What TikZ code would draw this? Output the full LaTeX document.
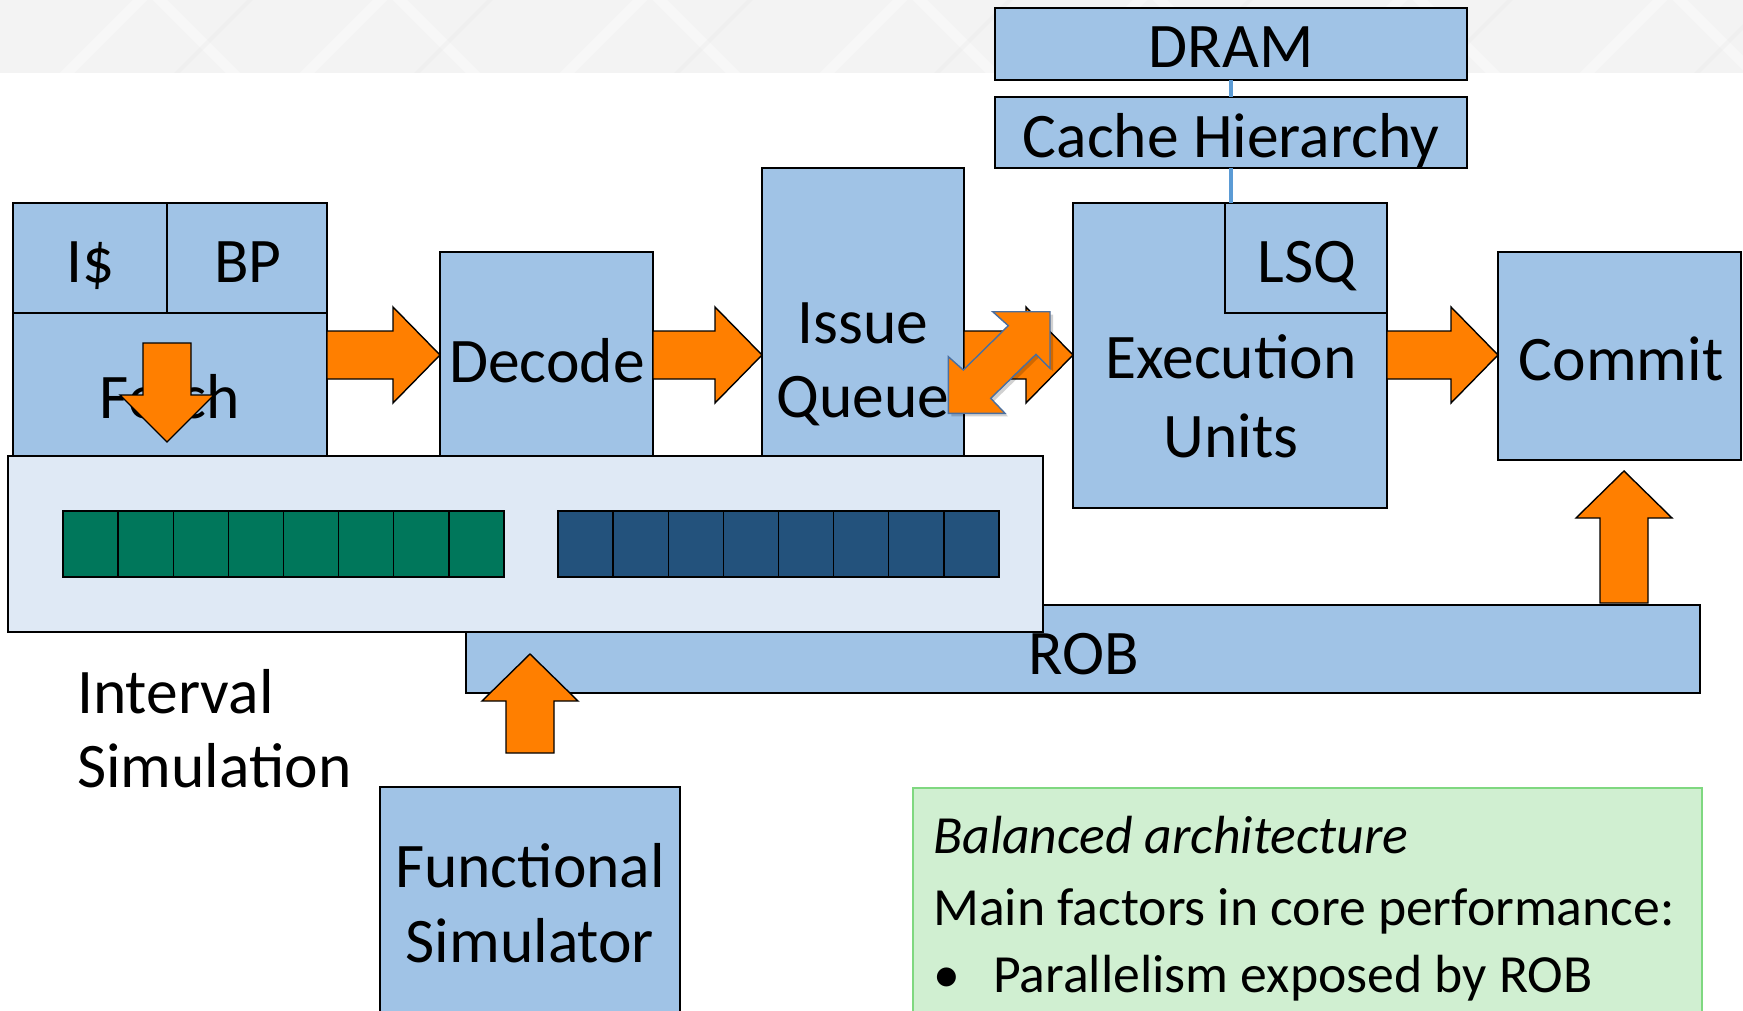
\documentclass[tikz,border=0pt]{standalone}
\usepackage{fontspec}
\setmainfont{Carlito}
\usetikzlibrary{calc,shadows}
\definecolor{boxblue}{HTML}{A0C3E6}
\definecolor{arrorange}{HTML}{FF7F00}
\definecolor{intfill}{HTML}{DFE9F5}
\definecolor{cellgreen}{HTML}{00775B}
\definecolor{cellblue}{HTML}{23527C}
\definecolor{notefill}{HTML}{D0EFD1}
\definecolor{noteborder}{HTML}{7FD880}
\definecolor{linkblue}{HTML}{5B9BD5}
\definecolor{dblborder}{HTML}{4A6FA0}
\definecolor{bannergray}{HTML}{F3F3F3}
\newcommand\blkR[2]{\draw[blk] let \p1=#1, \p2=#2 in
  (\x1,\y1+24pt) -- (\x2-47pt,\y1+24pt) -- (\x2-47pt,\y1+48pt) -- (\x2,\y1)
  -- (\x2-47pt,\y1-48pt) -- (\x2-47pt,\y1-24pt) -- (\x1,\y1-24pt) -- cycle;}
\newcommand\blkU[2]{\draw[blk] let \p1=#1, \p2=#2 in
  (\x1-24pt,\y1) -- (\x1-24pt,\y2-47pt) -- (\x1-48pt,\y2-47pt) -- (\x2,\y2)
  -- (\x1+48pt,\y2-47pt) -- (\x1+24pt,\y2-47pt) -- (\x1+24pt,\y1) -- cycle;}
\newcommand\blkD[2]{\draw[blk] let \p1=#1, \p2=#2 in
  (\x1-24pt,\y1) -- (\x1-24pt,\y2+47pt) -- (\x1-47pt,\y2+47pt) -- (\x2,\y2)
  -- (\x1+47pt,\y2+47pt) -- (\x1+24pt,\y2+47pt) -- (\x1+24pt,\y1) -- cycle;}
\begin{document}
\begin{tikzpicture}[x=1pt,y=-1pt,
  box/.style={draw=black,line width=1.6pt,fill=boxblue,inner sep=0pt,outer sep=0pt,anchor=north west},
  cellg/.style={draw=black,line width=1.4pt,fill=cellgreen,inner sep=0pt,outer sep=0pt,anchor=north west,minimum width=55.1pt,minimum height=66pt},
  cellb/.style={cellg,fill=cellblue},
  lbl/.style={inner sep=0pt,anchor=base,font=\fontsize{63.5pt}{76pt}\selectfont},
  lblw/.style={lbl,anchor=base west},
  note/.style={inner sep=0pt,anchor=base west,font=\fontsize{53.7pt}{64pt}\selectfont},
  blk/.style={draw=black,line width=1.4pt,fill=arrorange,line join=miter},
  link/.style={draw=linkblue,line width=4pt}]
\useasboundingbox (0,0) rectangle (1743,1011);
\clip (0,0) rectangle (1743,1011);
% banner
\fill[bannergray] (0,0) rectangle (1743,73);
\begin{scope}
\clip (0,0) rectangle (1743,73);
\foreach \s in {60,300,560,820,1060,1320,1580}{
  \draw[white,line width=10pt,opacity=0.35] (\s,80) -- (\s+90,-10) -- (\s+180,80);
  \draw[gray!30,line width=4pt,opacity=0.15] (\s+110,80) -- (\s+200,-10);
}
\end{scope}
% memory hierarchy
\node[box,minimum width=472pt,minimum height=72pt] (dram) at (995,8) {};
\node[box,minimum width=472pt,minimum height=71pt] (cache) at (995,97) {};
\node[lbl] (tdram) at (1231,68) {DRAM};
\node[lbl] (tcache) at (1231,158) {Cache Hierarchy};
% fetch
\node[box,minimum width=314pt,minimum height=170pt] (fetch) at (13,313) {};
\node[box,minimum width=154pt,minimum height=110pt] (icache) at (13,203) {};
\node[box,minimum width=160pt,minimum height=110pt] (bp) at (167,203) {};
\node[lbl] (ticache) at (91,283) {I\$};
\node[lbl] (tbp) at (248,283) {BP};
\node[lbl] (tfetch) at (170,418) {Fetch};
% decode, issue queue
\node[box,minimum width=213pt,minimum height=230pt] (decode) at (440,252) {};
\node[lbl] (tdecode) at (547,382) {Decode};
\node[box,minimum width=202pt,minimum height=300pt] (iq) at (762,168) {};
\node[lbl] (tiq1) at (863,343) {Issue};
\node[lbl] (tiq2) at (863,417) {Queue};
% execution units
\node[box,minimum width=314pt,minimum height=305pt] (eu) at (1073,203) {};
\node[box,minimum width=162pt,minimum height=110pt] (lsq) at (1225,203) {};
\node[lbl] (tlsq) at (1307,283) {LSQ};
\node[lbl] (teu1) at (1231,378) {Execution};
\node[lbl] (teu2) at (1231,457) {Units};
% commit
\node[box,minimum width=243pt,minimum height=208pt] (commit) at (1498,252) {};
\node[lbl] (tcommit) at (1621,380) {Commit};
% links
\draw[link] (dram.south) -- (cache.north);
\draw[link] (cache.south) -- (cache.south |- lsq.north);
% pipeline arrows
\coordinate (row) at (0,355);
\blkR{(fetch.east |- row)}{(decode.west |- row)}
\blkR{(decode.east |- row)}{(iq.west |- row)}
\blkR{(iq.east |- row)}{(eu.west |- row)}
\blkR{(eu.east |- row)}{(commit.west |- row)}
% fetch down arrow
\coordinate (fdbase) at (167,343);
\coordinate (fdtip) at (167,442);
\blkD{(fdbase)}{(fdtip)}
% double arrow
\fill[black,opacity=0.18,shift={(3,3)}] (948.3,413.3) -- (948.3,356.7) -- (963.3,370) -- (1008.3,325.7) -- (992.7,311.7)
  -- (1050,311.7) -- (1050,368.3) -- (1036,354.3) -- (990.7,398.3) -- (1005,413.3) -- cycle;
\draw[fill=arrorange,draw=dblborder,line width=1.4pt,line join=miter] (948.3,413.3) -- (948.3,356.7) -- (963.3,370) -- (1008.3,325.7) -- (992.7,311.7)
  -- (1050,311.7) -- (1050,368.3) -- (1036,354.3) -- (990.7,398.3) -- (1005,413.3) -- cycle;
% ROB
\node[box,minimum width=1234pt,minimum height=88pt] (rob) at (466,605) {};
\node[lbl] (trob) at (1084,674) {ROB};
% commit up arrow
\coordinate (cubase) at (1624,603);
\coordinate (cutip) at (1624,471);
\blkU{(cubase)}{(cutip)}
% interval simulation box
\node[box,fill=intfill,minimum width=1035pt,minimum height=176pt] (interval) at (8,456) {};
\foreach \i in {0,...,7}{
  \node[cellg] (g\i) at ({63+\i*55.125},511) {};
  \node[cellb] (b\i) at ({558+\i*55.125},511) {};
}
% ROB up arrow
\coordinate (rbbase) at (530,753);
\coordinate (rbtip) at (530,654);
\blkU{(rbbase)}{(rbtip)}
% labels
\node[lblw] (tint1) at (77,713) {Interval};
\node[lblw] (tint2) at (77,787) {Simulation};
% functional simulator
\node[box,minimum width=300pt,minimum height=260pt] (func) at (380,787) {};
\node[lbl] (tfunc1) at (530,887) {Functional};
\node[lbl] (tfunc2) at (530,962) {Simulator};
% note box
\node[draw=noteborder,line width=1.6pt,fill=notefill,inner sep=0pt,anchor=north west,minimum width=789pt,minimum height=260pt] (notebox) at (912,787) {};
\node[note] (n1) at (933,853) {\itshape Balanced architecture};
\node[note] (n2) at (933,925) {Main factors in core performance:};
\node[note] (n3) at (933,992) {•};
\node[note] (n4) at (993,992) {Parallelism exposed by ROB};
\end{tikzpicture}
\end{document}
